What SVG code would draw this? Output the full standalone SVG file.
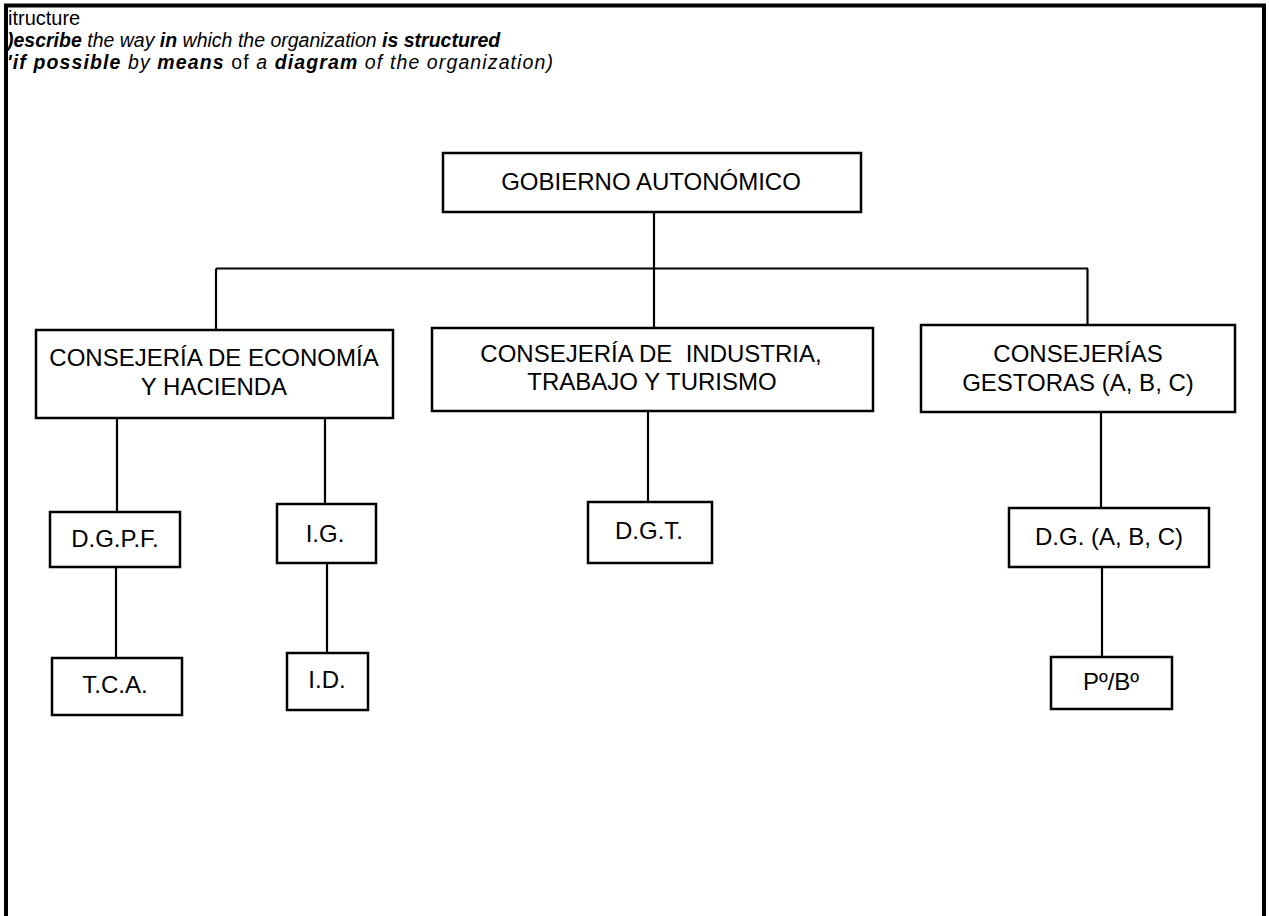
<svg xmlns="http://www.w3.org/2000/svg" width="1269" height="916" viewBox="0 0 1269 916">
<style>
.bx{fill:#fff;stroke:#000;stroke-width:2.5}
.ln{stroke:#000;stroke-width:2.2;fill:none}
.t{font-family:"Liberation Sans",Arial,sans-serif;font-size:24px;fill:#000;text-anchor:middle}
.h{font-family:"Liberation Sans",Arial,sans-serif;fill:#000}
.bi{font-weight:bold;font-style:italic}
.i{font-style:italic}
</style>
<rect width="1269" height="916" fill="#fff"/>
<path d="M6,916 V5.5 H1264 V916" fill="none" stroke="#000" stroke-width="4"/>
<g id="header">
<text class="h" x="8" y="24.5" font-size="20">itructure</text>
<text class="h" x="7" y="46.5" font-size="19.5"><tspan class="bi">)escribe</tspan><tspan class="i"> the way </tspan><tspan class="bi">in</tspan><tspan class="i"> which the organization </tspan><tspan class="bi">is structured</tspan></text>
<text class="h" x="7" y="68.5" font-size="19.5" textLength="546"><tspan class="bi">'if possible</tspan><tspan class="i"> by </tspan><tspan class="bi">means</tspan><tspan> of </tspan><tspan class="i">a </tspan><tspan class="bi">diagram</tspan><tspan class="i"> of the organization)</tspan></text>
</g>
<g id="connectors">
<path class="ln" d="M654,212 V328"/>
<path class="ln" d="M216,268.5 H1088"/>
<path class="ln" d="M216,268.5 V330"/>
<path class="ln" d="M1087.5,268.5 V325"/>
<path class="ln" d="M117,418 V512"/>
<path class="ln" d="M116,567 V658"/>
<path class="ln" d="M325,418 V504"/>
<path class="ln" d="M327,563 V653"/>
<path class="ln" d="M648,411 V502"/>
<path class="ln" d="M1101,412 V508"/>
<path class="ln" d="M1102,567 V657"/>
</g>
<g id="gobierno"><rect class="bx" x="443" y="153" width="418" height="59"/><text class="t" x="651" y="190">GOBIERNO AUTONÓMICO</text></g>
<g id="economia"><rect class="bx" x="36" y="330" width="357" height="88"/><text class="t" x="214" y="366">CONSEJERÍA DE ECONOMÍA</text><text class="t" x="214" y="395">Y HACIENDA</text></g>
<g id="industria"><rect class="bx" x="432" y="328" width="441" height="83"/><text class="t" x="651" y="362" xml:space="preserve">CONSEJERÍA DE  INDUSTRIA,</text><text class="t" x="652" y="390">TRABAJO Y TURISMO</text></g>
<g id="gestoras"><rect class="bx" x="921" y="325" width="314" height="87"/><text class="t" x="1078" y="362">CONSEJERÍAS</text><text class="t" x="1078" y="391">GESTORAS (A, B, C)</text></g>
<g id="dgpf"><rect class="bx" x="50" y="512" width="130" height="55"/><text class="t" x="115" y="547">D.G.P.F.</text></g>
<g id="tca"><rect class="bx" x="52" y="658" width="130" height="57"/><text class="t" x="115" y="693">T.C.A.</text></g>
<g id="ig"><rect class="bx" x="277" y="504" width="99" height="59"/><text class="t" x="325" y="542">I.G.</text></g>
<g id="id"><rect class="bx" x="287" y="653" width="81" height="57"/><text class="t" x="327" y="688">I.D.</text></g>
<g id="dgt"><rect class="bx" x="588" y="502" width="124" height="61"/><text class="t" x="649" y="539">D.G.T.</text></g>
<g id="dgabc"><rect class="bx" x="1009" y="508" width="200" height="59"/><text class="t" x="1109" y="545">D.G. (A, B, C)</text></g>
<g id="pobo"><rect class="bx" x="1051" y="657" width="121" height="52"/><text class="t" x="1111" y="690">Pº/Bº</text></g>
</svg>
